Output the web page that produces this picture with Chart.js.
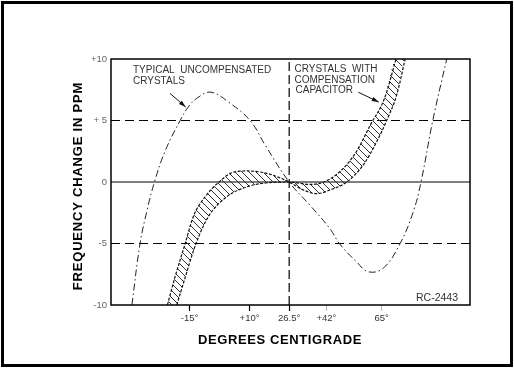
<!DOCTYPE html>
<html lang="en">
<head>
<meta charset="UTF-8">
<title>Frequency change vs temperature</title>
<style>
    body { margin: 0; background: #fff; }
    #frame { position: absolute; left: 1px; top: 1px; width: 506px; height: 360px; border: 3px solid #000; }
    #wrap { position: absolute; left: 0; top: 0; width: 514px; height: 370px; }
</style>
<script src="https://cdn.jsdelivr.net/npm/chart.js"></script>
</head>
<body>
<div id="frame"></div>
<div id="wrap"><canvas id="chart" width="514" height="370"></canvas></div>
<script>
// values: temperature in deg C, frequency change in ppm
const uncompTemp = [-39.0, -35.6, -32.8, -29.6, -25.2, -18.9, -15.5, -11.3, -6.0, 1.2, 10.2, 16.5, 26.5,
                    35.2, 43.5, 47.4, 54.6, 59.5, 65.7, 72.7, 78.2, 81.4, 86.3, 92.1];
const uncompPpm  = [-10, -5, -2.4, 0, 2.5, 5, 6.1, 6.9, 7.3, 6.5, 5, 3.0, 0,
                    -1.9, -3.8, -5, -6.5, -7.3, -7.0, -5, -2.4, 0, 5, 10];

// compensated band, outer edge
const compATemp = [-24.2, -21.0, -16.8, -13.4, -8.5, -2.7, 2.0, 8.8, 17.2, 26.5,
                   32.4, 38.0, 43.5, 50.5, 57.4, 63.0, 67.1, 71.3, 74.8];
const compAPpm  = [-10, -7.7, -5, -2.8, -1.2, 0, 0.7, 0.9, 0.7, 0,
                   -0.65, -0.95, -0.65, 0, 1.4, 3.3, 5, 7.1, 10];
// compensated band, inner edge
const compBTemp = [-20.3, -17.5, -12.3, -7.1, 0.5, 8.8, 15.8, 26.5, 35.2, 40.8, 47.7, 54.6, 60.2, 66.2, 71.0];
const compBPpm  = [-10, -8.2, -5, -2.8, -1.2, -0.4, -0.1, 0, -0.2, 0, 0.85, 2.5, 4.6, 6.8, 10];

const refPpm = [5, 0, -5];
const refTemp = 26.5;

const xTicks = [-15, 10, 26.5, 42, 65];
const xTickLabels = ['-15°', '+10°', '26.5°', '+42°', '65°'];
const yTicks = [-10, -5, 0, 5, 10];
const yTickLabels = ['-10', '-5', '0', '+ 5', '+10'];

const X_MIN = -47.7, X_MAX = 101.8;

const pts = (xs, ys) => xs.map((v, i) => ({ x: v, y: ys[i] }));

const ctx = document.getElementById('chart').getContext('2d');

function hatch() {
    const c = document.createElement('canvas');
    c.width = 7; c.height = 7;
    const g = c.getContext('2d');
    g.strokeStyle = '#333';
    g.lineWidth = 1;
    g.beginPath();
    g.moveTo(0, 0); g.lineTo(7, 7);
    g.moveTo(-1, 6); g.lineTo(1, 8);
    g.moveTo(6, -1); g.lineTo(8, 1);
    g.stroke();
    return ctx.createPattern(c, 'repeat');
}

const datasets = [];

// band outline: edge A forward, edge B back
datasets.push({
    data: pts(compATemp, compAPpm).concat(pts(compBTemp, compBPpm).reverse()),
    borderColor: 'transparent',
    borderWidth: 1,
    backgroundColor: hatch(),
    fill: 'shape',
    cubicInterpolationMode: 'monotone',
    order: 5
});
datasets.push({
    data: pts(compATemp, compAPpm),
    borderColor: '#111', borderWidth: 1.2, borderDash: [3, 1.5],
    cubicInterpolationMode: 'monotone', order: 1
});
datasets.push({
    data: pts(compBTemp, compBPpm),
    borderColor: '#111', borderWidth: 1.2, borderDash: [3, 1.5],
    cubicInterpolationMode: 'monotone', order: 1
});
datasets.push({
    data: pts(uncompTemp, uncompPpm),
    borderColor: '#222', borderWidth: 1, borderDash: [7, 3, 1.5, 3],
    tension: 0.4, order: 2
});

// reference lines
refPpm.forEach(v => {
    datasets.push({
        data: [{ x: X_MIN, y: v }, { x: X_MAX, y: v }],
        borderColor: '#000', borderWidth: 1.2,
        borderDash: v === 0 ? [] : [9, 5],
        order: 6
    });
});
datasets.push({
    data: [{ x: refTemp, y: -10 }, { x: refTemp, y: 10 }],
    borderColor: '#000', borderWidth: 1.2, borderDash: [9, 4],
    order: 6
});

const notes = [
    { text: 'TYPICAL  UNCOMPENSATED', x: 133, y: 72.5 },
    { text: 'CRYSTALS', x: 133, y: 84.3 },
    { text: 'CRYSTALS  WITH', x: 294.5, y: 71.5 },
    { text: 'COMPENSATION', x: 294.5, y: 82.5 },
    { text: 'CAPACITOR', x: 295.5, y: 93.3 }
];
const arrows = [
    [-23.1, 7.2, -16.6, 6.1],
    [55.3, 7.3, 63.8, 6.5]
];

function arrow(c, x0, y0, x1, y1) {
    const a = Math.atan2(y1 - y0, x1 - x0);
    c.beginPath();
    c.moveTo(x0, y0); c.lineTo(x1, y1);
    c.stroke();
    c.beginPath();
    c.moveTo(x1, y1);
    c.lineTo(x1 - 7 * Math.cos(a) + 2.2 * Math.sin(a), y1 - 7 * Math.sin(a) - 2.2 * Math.cos(a));
    c.lineTo(x1 - 7 * Math.cos(a) - 2.2 * Math.sin(a), y1 - 7 * Math.sin(a) + 2.2 * Math.cos(a));
    c.closePath();
    c.fill();
}

const extras = {
    id: 'extras',
    afterDraw(chart) {
        const { ctx: c, chartArea: a, scales: { x, y } } = chart;
        c.save();
        c.strokeStyle = '#000';
        c.lineWidth = 1.5;
        c.strokeRect(a.left, a.top, a.right - a.left, a.bottom - a.top);

        c.fillStyle = '#333';
        c.font = '10px "Liberation Sans", Arial, sans-serif';
        c.textBaseline = 'alphabetic';
        notes.forEach(n => c.fillText(n.text, n.x, n.y));

        c.fillStyle = '#111';
        c.strokeStyle = '#111';
        c.lineWidth = 1;
        arrows.forEach(p => arrow(c, x.getPixelForValue(p[0]), y.getPixelForValue(p[1]),
                                     x.getPixelForValue(p[2]), y.getPixelForValue(p[3])));

        c.fillStyle = '#333';
        c.font = '10.5px "Liberation Sans", Arial, sans-serif';
        c.textAlign = 'right';
        c.fillText('RC-2443', 458, 300.5);

        // axis titles
        c.fillStyle = '#000';
        c.font = 'bold 13px "Liberation Sans", Arial, sans-serif';
        c.textAlign = 'center';
        c.textBaseline = 'middle';
        c.letterSpacing = '0.6px';
        c.fillText('DEGREES CENTIGRADE', 280, 340.5);
        c.translate(78.5, 186);
        c.rotate(-Math.PI / 2);
        c.letterSpacing = '0.8px';
        c.fillText('FREQUENCY CHANGE IN PPM', 0, 0);
        c.restore();
    }
};

new Chart(ctx, {
    type: 'line',
    data: { datasets: datasets },
    options: {
        responsive: false,
        animation: false,
        layout: { padding: { top: 59, right: 44, left: 0, bottom: 0 } },
        elements: { point: { radius: 0 } },
        plugins: { legend: { display: false }, tooltip: { enabled: false } },
        scales: {
            x: {
                type: 'linear', min: X_MIN, max: X_MAX,
                afterBuildTicks: s => { s.ticks = xTicks.map(v => ({ value: v })); },
                afterFit: s => { s.height = 65; },
                border: { display: false },
                grid: {
                    drawOnChartArea: false, tickLength: 6, tickWidth: 1.2,
                    tickColor: ['#000', '#000', '#000', '#bbb', '#bbb']
                },
                ticks: {
                    autoSkip: false, maxRotation: 0, padding: 2,
                    color: '#333',
                    font: { family: '"Liberation Sans", Arial, sans-serif', size: 9.5 },
                    callback: (v, i) => xTickLabels[i]
                }
            },
            y: {
                min: -10, max: 10,
                afterBuildTicks: s => { s.ticks = yTicks.map(v => ({ value: v })); },
                afterFit: s => { s.width = 111; },
                border: { display: false },
                grid: { display: false, drawTicks: false, tickLength: 0 },
                ticks: {
                    padding: 4,
                    color: '#666',
                    font: { family: '"Liberation Sans", Arial, sans-serif', size: 9.5 },
                    callback: (v, i) => yTickLabels[i]
                }
            }
        }
    },
    plugins: [extras]
});
</script>
</body>
</html>
